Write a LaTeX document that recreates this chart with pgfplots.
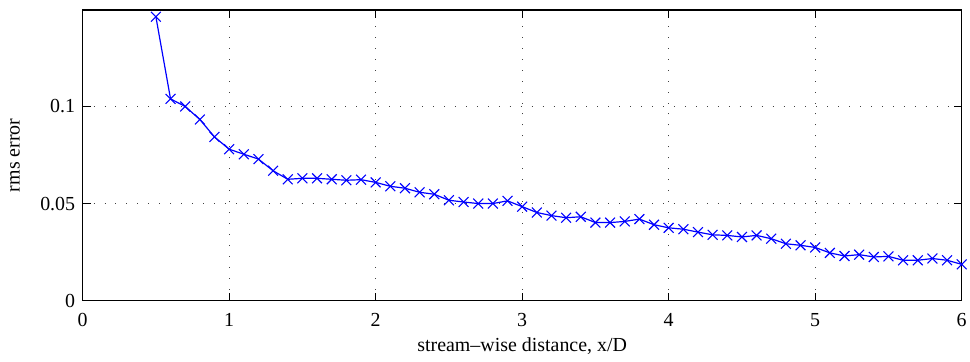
\documentclass[border=0pt]{standalone}
\usepackage{pgfplots}
\pgfplotsset{compat=1.18}
\usepackage{fontspec}
\setmainfont{Liberation Serif}
\begin{document}
\begin{tikzpicture}
\begin{axis}[
  scale only axis,
  width=883pt, height=292pt,
  xmin=0, xmax=6, ymin=0, ymax=0.1497,
  xtick={0,1,2,3,4,5,6},
  xticklabels={0,1,2,3,4,5,6},
  ytick={0,0.05,0.1},
  yticklabels={0,0.05,0.1},
  scaled y ticks=false,
  tick align=inside,
  major tick length=8pt,
  xtick pos=both, ytick pos=both,
  grid=major,
  major grid style={black!75, line width=0.8pt, dash pattern=on 1pt off 10pt},
  axis line style={black, line width=1.2pt},
  tick style={black, line width=0.8pt},
  font=\fontsize{20}{24}\selectfont,
  xticklabel style={yshift=-9pt},
  yticklabel style={xshift=-4pt},
  xlabel={stream\textendash wise distance, x/D},
  ylabel={rms error},
  xlabel style={at={(axis description cs:0.5,-0.158)}, anchor=center},
  ylabel style={at={(axis description cs:-0.077,0.5)}, anchor=center, rotate=0},
  clip=false,
]
\addplot[blue, line width=1.2pt, mark=x, mark size=7pt, mark options={line width=1.1pt}] coordinates {
(0.5,0.1462) (0.6,0.1039) (0.7,0.1000) (0.8,0.0933) (0.9,0.0843)
(1.0,0.0780) (1.1,0.0754) (1.2,0.0729) (1.3,0.0669) (1.4,0.0625)
(1.5,0.0630) (1.6,0.0630) (1.7,0.0625) (1.8,0.0620) (1.9,0.0623)
(2.0,0.0609) (2.1,0.0589) (2.2,0.0579) (2.3,0.0558) (2.4,0.0548)
(2.5,0.0517) (2.6,0.0508) (2.7,0.0500) (2.8,0.0500) (2.9,0.0514)
(3.0,0.0484) (3.1,0.0454) (3.2,0.0438) (3.3,0.0427) (3.4,0.0432)
(3.5,0.0402) (3.6,0.0402) (3.7,0.0408) (3.8,0.0420) (3.9,0.0391)
(4.0,0.0375) (4.1,0.0368) (4.2,0.0353) (4.3,0.0339) (4.4,0.0336)
(4.5,0.0328) (4.6,0.0336) (4.7,0.0319) (4.8,0.0293) (4.9,0.0285)
(5.0,0.0274) (5.1,0.0246) (5.2,0.0230) (5.3,0.0237) (5.4,0.0225)
(5.5,0.0228) (5.6,0.0208) (5.7,0.0208) (5.8,0.0217) (5.9,0.0208)
(6.0,0.0187)
};
\end{axis}
\useasboundingbox ([xshift=-83pt,yshift=-61pt]current axis.south west) rectangle ([xshift=4pt,yshift=10pt]current axis.north east);
\end{tikzpicture}
\end{document}
